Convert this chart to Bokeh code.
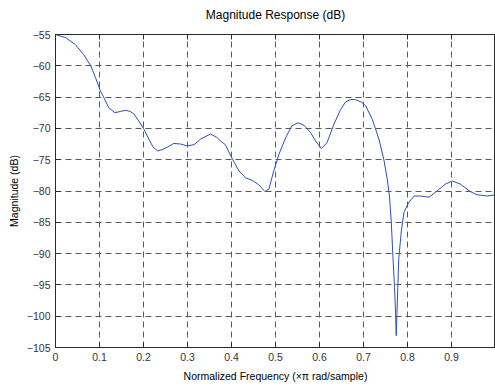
from bokeh.plotting import figure
from bokeh.models import Range1d, FixedTicker, LinearAxis, CustomLabelingPolicy
from bokeh.embed import file_html
from bokeh.resources import INLINE

# Normalized frequency (x pi rad/sample)
freq = [0.000, 0.023, 0.045, 0.064, 0.080, 0.091, 0.102, 0.110, 0.121, 0.135,
        0.147, 0.159, 0.170, 0.178, 0.189, 0.200, 0.212, 0.222, 0.232, 0.242,
        0.254, 0.269, 0.285, 0.299, 0.315, 0.330, 0.352, 0.366, 0.375, 0.386,
        0.402, 0.417, 0.432, 0.447, 0.462, 0.476, 0.485, 0.496, 0.508, 0.523,
        0.537, 0.551, 0.565, 0.580, 0.591, 0.604, 0.617, 0.633, 0.648, 0.659,
        0.670, 0.682, 0.695, 0.705, 0.720, 0.735, 0.746, 0.754, 0.759, 0.763,
        0.767, 0.7705, 0.773, 0.7743, 0.776, 0.778, 0.780, 0.786, 0.792, 0.803,
        0.815, 0.830, 0.849, 0.867, 0.886, 0.902, 0.920, 0.943, 0.958, 0.981,
        1.000]
# Magnitude (dB)
mag = [-55.0, -55.5, -56.6, -58.2, -60.0, -61.9, -64.0, -65.1, -66.7, -67.5,
       -67.3, -67.1, -67.3, -67.65, -68.8, -70.0, -71.7, -73.0, -73.6, -73.4,
       -73.0, -72.4, -72.5, -72.8, -72.6, -71.7, -70.9, -71.4, -72.0, -72.6,
       -74.9, -76.8, -77.9, -78.3, -79.0, -80.1, -79.7, -76.8, -74.1, -71.5,
       -69.6, -69.1, -69.5, -70.7, -72.0, -73.2, -72.3, -69.3, -67.0, -65.8,
       -65.4, -65.4, -65.8, -66.4, -68.55, -71.7, -74.9, -78.1, -80.8, -84.8,
       -90.6, -95.4, -99.6, -103.1, -99.6, -95.4, -90.9, -86.4, -83.4, -81.8,
       -80.8, -80.8, -81.0, -80.0, -78.9, -78.4, -78.9, -80.1, -80.6, -80.8,
       -80.6]

x_ticks = [0.0, 0.1, 0.2, 0.3, 0.4, 0.5, 0.6, 0.7, 0.8, 0.9]
y_ticks = [-105, -100, -95, -90, -85, -80, -75, -70, -65, -60, -55]

FONT = "Liberation Sans"

p = figure(width=495, height=387, output_backend="svg", toolbar_location=None,
           x_range=Range1d(0, 1), y_range=Range1d(-105, -55),
           title="Magnitude Response (dB)",
           min_border_left=55, min_border_right=0, min_border_top=33,
           min_border_bottom=40)
p.background_fill_color = "white"
p.border_fill_color = "white"
p.outline_line_color = "#2b2b2b"
p.outline_line_width = 1

p.title.align = "center"
p.title.text_font = FONT
p.title.text_font_size = "12px"
p.title.text_font_style = "normal"
p.title.text_color = "#000000"
p.title.offset = 0

p.line(freq, mag, line_color="#2f4fb8", line_width=1)

for ax in p.xaxis:
    ax.ticker = FixedTicker(ticks=x_ticks)
    ax.major_label_overrides = {0: "0", 0.0: "0"}
for ax in p.yaxis:
    ax.ticker = FixedTicker(ticks=y_ticks)

for ax in list(p.xaxis) + list(p.yaxis):
    ax.axis_line_color = "#2b2b2b"
    ax.major_tick_line_color = "#2b2b2b"
    ax.major_tick_in = 5
    ax.major_tick_out = 0
    ax.minor_tick_line_color = None
    ax.major_label_text_font = FONT
    ax.major_label_text_font_size = "10.5px"
    ax.major_label_text_color = "#333333"
    ax.axis_label_text_font = FONT
    ax.axis_label_text_font_size = "10.5px"
    ax.axis_label_text_font_style = "normal"
    ax.axis_label_text_color = "#000000"
    ax.major_label_standoff = 5

p.xaxis.axis_label = "Normalized Frequency (\u00d7\u03c0 rad/sample)"
p.yaxis.axis_label = "Magnitude (dB)"
p.xaxis.axis_label_standoff = 6
p.yaxis.axis_label_standoff = 4

no_labels = CustomLabelingPolicy(code="""
for (const i of indices)
    indices.unset(i)
""")
top = LinearAxis(ticker=FixedTicker(ticks=x_ticks), major_label_policy=no_labels,
                 major_tick_in=5, major_tick_out=0, axis_line_color="#2b2b2b",
                 major_tick_line_color="#2b2b2b", minor_tick_line_color=None,
                 major_label_standoff=0, major_label_text_font_size="8px")
p.add_layout(top, "above")

p.xgrid.ticker = FixedTicker(ticks=x_ticks)
p.ygrid.ticker = FixedTicker(ticks=y_ticks)
for g in (p.xgrid, p.ygrid):
    g.grid_line_color = "#5a5a5a"
    g.grid_line_dash = "6 4"
    g.grid_line_width = 1
    g.grid_line_alpha = 1.0

open("out.html", "w").write(file_html(p, INLINE))
